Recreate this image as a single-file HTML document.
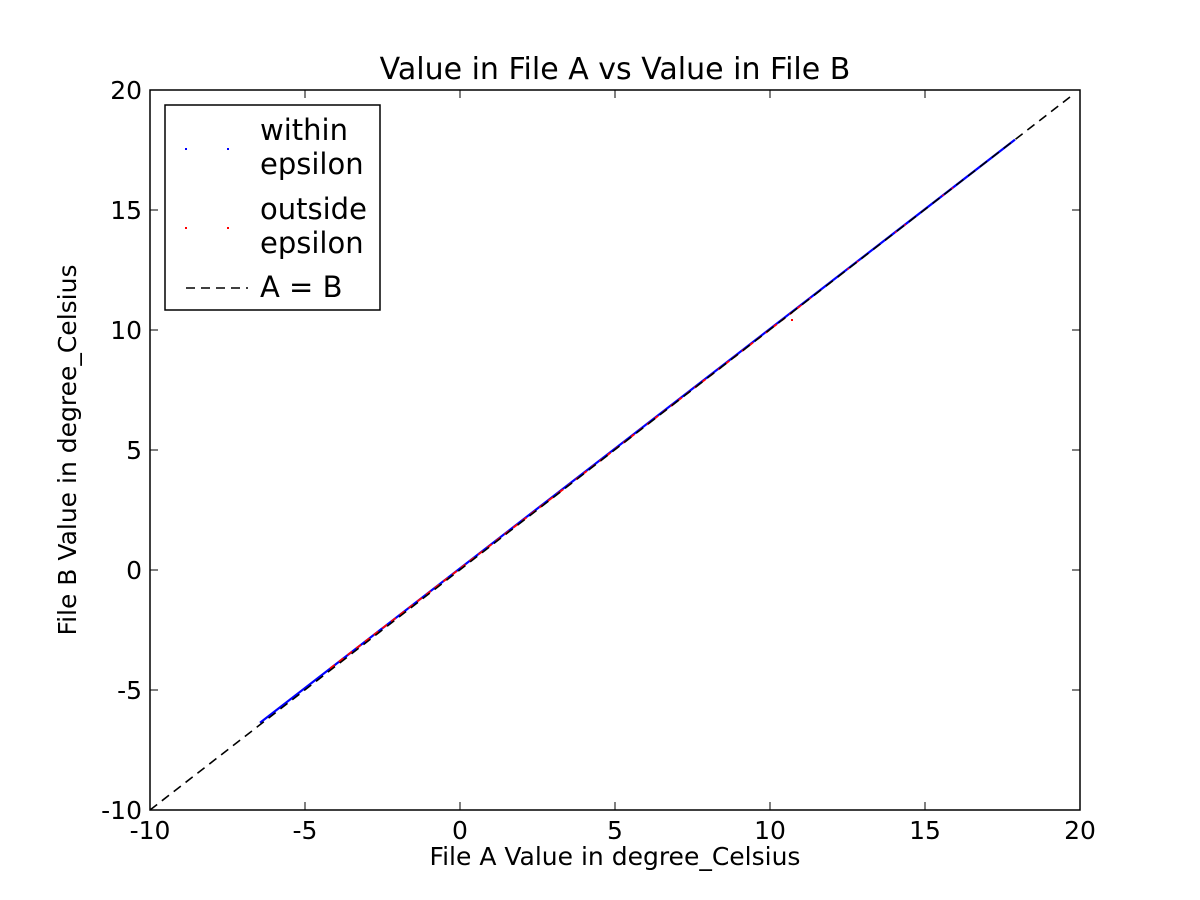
<!DOCTYPE html>
<html><head><meta charset="utf-8"><style>
html,body{margin:0;padding:0;background:#fff;}
svg{display:block;font-family:"DejaVu Sans","Liberation Sans",sans-serif;}
</style></head><body>
<svg width="1200" height="900" xmlns="http://www.w3.org/2000/svg">
<rect width="1200" height="900" fill="#fff"/>
<!-- data -->
<line x1="260" y1="722.8" x2="1015" y2="139.6" stroke="#0000ff" stroke-width="2.2"/>
<line x1="330" y1="668.5" x2="560" y2="491.8" stroke="#ff0000" stroke-width="1.8" stroke-dasharray="6,5"/>
<line x1="560" y1="491.8" x2="800" y2="306.3" stroke="#ff0000" stroke-width="1.8" stroke-dasharray="4,6"/>
<line x1="800" y1="306.3" x2="960" y2="182.2" stroke="#ff0000" stroke-width="1.4" stroke-dasharray="2,10"/>
<rect x="791" y="319" width="2" height="2" fill="#ff0000"/>
<!-- A=B -->
<line x1="150" y1="810" x2="1070" y2="97" stroke="#000" stroke-width="1.6" stroke-dasharray="9,6"/>
<!-- axes -->
<rect x="150" y="90" width="930" height="720" fill="none" stroke="#000" stroke-width="1.5"/>
<g stroke="#000" stroke-width="1">
<line x1="305" y1="810" x2="305" y2="802"/><line x1="305" y1="90" x2="305" y2="98"/>
<line x1="460" y1="810" x2="460" y2="802"/><line x1="460" y1="90" x2="460" y2="98"/>
<line x1="615" y1="810" x2="615" y2="802"/><line x1="615" y1="90" x2="615" y2="98"/>
<line x1="770" y1="810" x2="770" y2="802"/><line x1="770" y1="90" x2="770" y2="98"/>
<line x1="925" y1="810" x2="925" y2="802"/><line x1="925" y1="90" x2="925" y2="98"/>
<line x1="150" y1="690" x2="158" y2="690"/><line x1="1080" y1="690" x2="1072" y2="690"/>
<line x1="150" y1="570" x2="158" y2="570"/><line x1="1080" y1="570" x2="1072" y2="570"/>
<line x1="150" y1="450" x2="158" y2="450"/><line x1="1080" y1="450" x2="1072" y2="450"/>
<line x1="150" y1="330" x2="158" y2="330"/><line x1="1080" y1="330" x2="1072" y2="330"/>
<line x1="150" y1="210" x2="158" y2="210"/><line x1="1080" y1="210" x2="1072" y2="210"/>
</g>
<g font-size="25" text-anchor="middle" fill="#000">
<text x="150" y="839">-10</text><text x="305" y="839">-5</text><text x="460" y="839">0</text>
<text x="615" y="839">5</text><text x="770" y="839">10</text><text x="925" y="839">15</text><text x="1080" y="839">20</text>
</g>
<g font-size="25" text-anchor="end" fill="#000">
<text x="142" y="819">-10</text><text x="142" y="699">-5</text><text x="142" y="579">0</text>
<text x="142" y="459">5</text><text x="142" y="339">10</text><text x="142" y="219">15</text><text x="142" y="99">20</text>
</g>
<text x="615" y="79" font-size="30" text-anchor="middle">Value in File A vs Value in File B</text>
<text x="615" y="865" font-size="25" text-anchor="middle">File A Value in degree_Celsius</text>
<text transform="translate(76,450) rotate(-90)" font-size="25" text-anchor="middle">File B Value in degree_Celsius</text>
<!-- legend -->
<rect x="165" y="105" width="215" height="205" fill="#fff" stroke="#000" stroke-width="1.5"/>
<rect x="185" y="148" width="2" height="2" fill="#0000ff"/><rect x="227" y="148" width="2" height="2" fill="#0000ff"/>
<rect x="185" y="227" width="2" height="2" fill="#ff0000"/><rect x="227" y="227" width="2" height="2" fill="#ff0000"/>
<line x1="186" y1="288" x2="248" y2="288" stroke="#000" stroke-width="1.6" stroke-dasharray="9,6"/>
<g font-size="29" fill="#000">
<text x="260" y="140">within</text><text x="260" y="174">epsilon</text>
<text x="260" y="219">outside</text><text x="260" y="253">epsilon</text>
<text x="260" y="297">A = B</text>
</g>
</svg>
</body></html>
